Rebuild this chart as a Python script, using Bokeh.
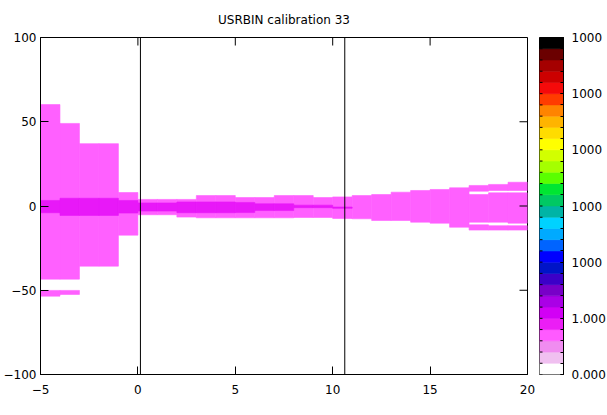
from bokeh.plotting import figure
from bokeh.layouts import row
from bokeh.models import Range1d, FixedTicker, Span
from bokeh.embed import file_html
from bokeh.resources import INLINE

TITLE = "USRBIN calibration 33"
x_ticks = [-5, 0, 5, 10, 15, 20]
y_ticks = [-100, -50, 0, 50, 100]
bin_width = 1.0

# light level cells (left edge, bottom, top)
light_x0 = [-5, -5, -4, -4, -3, -2, -1, 0, 1, 2, 3, 4, 5, 6, 7, 8, 9, 10, 11, 12,
            13, 14, 15, 16, 17, 17, 17, 18, 18, 18, 19, 19, 19]
light_lo = [-43.4, -53.5, -43.4, -52.5, -35.7, -35.7, -17.3, -5.2, -5.2, -6.6, -7.0, -7.0,
            -7.0, -7.0, -7.0, -6.8, -6.8, -7.4, -7.6, -8.6, -8.6, -9.6, -10.2, -12.6,
            -14.3, -9.6, 8.8, -14.3, -9.6, 9.2, -14.3, -10.2, 9.2]
light_hi = [60.2, -50.1, 49.0, -50.1, 37.0, 37.0, 8.0, 3.9, 3.9, 3.9, 6.2, 6.2,
            5.0, 5.0, 6.2, 6.2, 5.0, 5.4, 6.2, 6.8, 8.2, 9.2, 9.8, 10.8,
            -11.2, 6.8, 12.2, -11.7, 7.8, 12.8, -11.7, 7.8, 14.1]

# dark level cells
dark_x0 = [-5, -4, -3, -2, -1, 0, 1, 2, 3, 4, 5, 6, 7, 8, 9, 10]
dark_lo = [-4.0, -5.6, -5.6, -5.6, -4.2, -3.0, -3.0, -4.0, -4.0, -4.0, -3.9, -2.7, -2.7,
           -1.0, -1.0, -1.4]
dark_hi = [3.3, 4.6, 4.6, 4.6, 3.3, 1.8, 1.8, 2.4, 2.4, 2.4, 2.1, 1.3, 1.3, 0.5, 0.5, -0.6]

vline_x = [0.13, 10.62]

LIGHT = "#ff60ff"
DARK = "#e818f8"

# colour bar bands, top to bottom
band_colors = ["#000000", "#6b0000", "#a50000", "#cc0000", "#f50a0a", "#ff3c00",
               "#ff8400", "#ffb400", "#ffdc00", "#ffff00", "#d2ff00", "#a5ff00",
               "#5aff00", "#00e632", "#00c864", "#00b4a5", "#00d2ff", "#00aaff",
               "#0064ff", "#0000ff", "#0014c8", "#3c00c8", "#7800c8", "#aa00e6",
               "#d200f5", "#eb1ef5", "#ff5aff", "#f08cf0", "#f0c0f0", "#ffffff"]
cb_levels = [0, 5, 10, 15, 20, 25, 30]
cb_labels = ["0.000", "1.000", "1000", "1000", "1000", "1000", "1000"]

FONT = "DejaVu Sans"
FS = "12px"
FRAME_W, FRAME_H = 487, 337
TICK_LEN = 8
XMIN, XMAX, YMIN, YMAX = -5, 20, -100, 100

p = figure(frame_width=FRAME_W, frame_height=FRAME_H, x_range=Range1d(XMIN, XMAX),
           y_range=Range1d(YMIN, YMAX), output_backend="svg", toolbar_location=None,
           min_border_left=31, min_border_right=12, min_border_top=29,
           min_border_bottom=33, title=TITLE)
p.title.align = "center"
p.title.text_font = FONT
p.title.text_font_size = FS
p.title.text_font_style = "normal"
p.title.text_color = "black"
p.title.standoff = 21
p.grid.visible = False
p.outline_line_color = "black"
p.outline_line_alpha = 1
p.background_fill_color = "white"
p.border_fill_color = "white"

p.quad(left=light_x0, right=[x + bin_width for x in light_x0], bottom=light_lo,
       top=light_hi, fill_color=LIGHT, line_color=LIGHT, line_width=0.6)
p.quad(left=dark_x0, right=[x + bin_width for x in dark_x0], bottom=dark_lo,
       top=dark_hi, fill_color=DARK, line_color=DARK, line_width=0.6)
for vx in vline_x:
    p.add_layout(Span(location=vx, dimension="height", line_color="black", line_width=1))


def style_axis(ax, ticks, standoff):
    ax.ticker = FixedTicker(ticks=ticks, minor_ticks=[])
    ax.major_tick_in = TICK_LEN
    ax.major_tick_out = 0
    ax.minor_tick_in = 0
    ax.minor_tick_out = 0
    ax.axis_line_color = "black"
    ax.major_tick_line_color = "black"
    ax.major_label_text_font = FONT
    ax.major_label_text_font_size = FS
    ax.major_label_text_color = "black"
    ax.major_label_standoff = standoff


style_axis(p.xaxis[0], x_ticks, 10)
style_axis(p.yaxis[0], y_ticks, 4)

# mirrored inward ticks on top and right edges
dy_tick = TICK_LEN * (YMAX - YMIN) / FRAME_H
dx_tick = TICK_LEN * (XMAX - XMIN) / FRAME_W
p.segment(x0=x_ticks, y0=[YMAX] * len(x_ticks), x1=x_ticks,
          y1=[YMAX - dy_tick] * len(x_ticks), line_color="black", line_width=1)
p.segment(x0=[XMAX] * len(y_ticks), y0=y_ticks, x1=[XMAX - dx_tick] * len(y_ticks),
          y1=y_ticks, line_color="black", line_width=1)

# colour bar
n_bands = len(band_colors)
CB_W = 24
CB_TICK = 3
cb = figure(frame_width=CB_W, frame_height=FRAME_H, x_range=Range1d(0, 1),
            y_range=Range1d(0, n_bands), output_backend="svg", toolbar_location=None,
            x_axis_location=None, y_axis_location="right", min_border_left=0,
            min_border_right=30, min_border_top=29, min_border_bottom=33)
cb.grid.visible = False
cb.outline_line_color = "black"
cb.background_fill_color = "white"
cb.border_fill_color = "white"
bottoms = list(range(n_bands))
cb.quad(left=0, right=1, bottom=bottoms, top=[b + 1 for b in bottoms],
        fill_color=band_colors[::-1], line_color=band_colors[::-1], line_width=0.6)

ax = cb.yaxis[0]
ax.ticker = FixedTicker(ticks=cb_levels, minor_ticks=list(range(n_bands + 1)))
ax.major_tick_in = CB_TICK
ax.major_tick_out = 0
ax.minor_tick_in = CB_TICK
ax.minor_tick_out = 0
ax.axis_line_color = "black"
ax.major_tick_line_color = "black"
ax.minor_tick_line_color = "black"
ax.major_label_text_font = FONT
ax.major_label_text_font_size = FS
ax.major_label_text_color = "black"
ax.major_label_standoff = 8
ax.major_label_overrides = {float(lv): lab for lv, lab in zip(cb_levels, cb_labels)}

# inward band ticks on the left edge of the colour bar
edges = list(range(n_bands + 1))
cb.segment(x0=[0] * len(edges), y0=edges, x1=[CB_TICK / CB_W] * len(edges), y1=edges,
           line_color="black", line_width=1)

layout = row(p, cb)
open("out.html", "w").write(file_html(layout, INLINE))
